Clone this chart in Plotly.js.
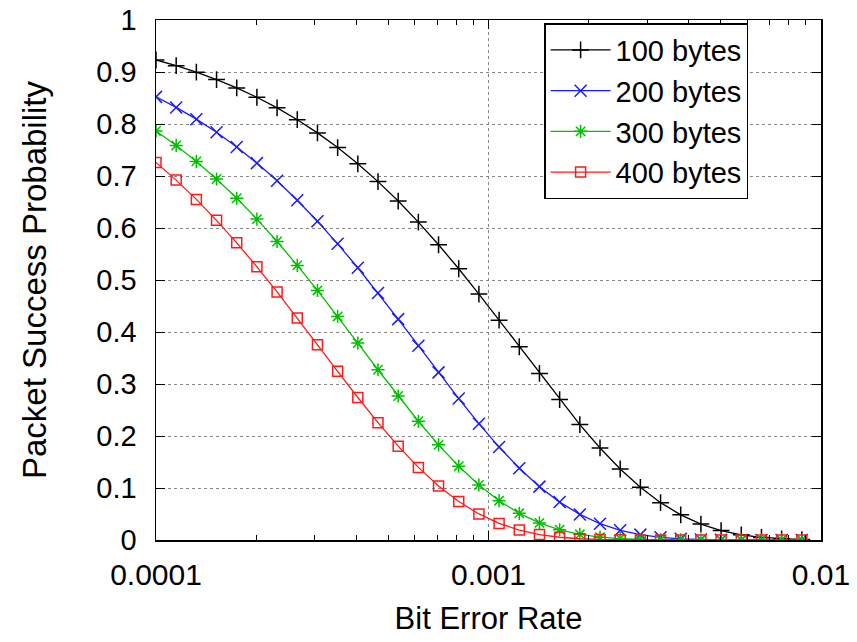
<!DOCTYPE html>
<html>
<head>
<meta charset="utf-8">
<script src="https://cdn.plot.ly/plotly-3.0.1.min.js"></script>
<style>html,body{margin:0;padding:0;background:#fff;}#chart{width:857px;height:642px;}</style>
</head>
<body>
<div id="chart"></div>
<script>
// Bit error rate samples (x)
const ber = [0.0001, 0.000115, 0.00013225, 0.00015209, 0.0001749, 0.00020114, 0.00023131, 0.000266, 0.0003059, 0.00035179,
  0.00040456, 0.00046524, 0.00053503, 0.00061528, 0.00070757, 0.00081371, 0.00093576, 0.0010761, 0.0012376, 0.0014232,
  0.0016367, 0.0018822, 0.0021645, 0.0024892, 0.0028625, 0.0032919, 0.0037857, 0.0043535, 0.0050066, 0.0057575,
  0.0066212, 0.0076144, 0.0087565];

const seriesNames = ['100 bytes', '200 bytes', '300 bytes', '400 bytes'];

const p100 = [0.9231, 0.9121, 0.8996, 0.8854, 0.8694, 0.8514, 0.8311, 0.8083, 0.7829, 0.7547,
  0.7235, 0.6892, 0.6518, 0.6113, 0.5678, 0.5216, 0.4730, 0.4228, 0.3716, 0.3203,
  0.2700, 0.2219, 0.1770, 0.1365, 0.1013, 0.0718, 0.0484, 0.0307, 0.0182, 0.0100,
  0.0050, 0.0023, 0.0009];
const p200 = [0.8522, 0.8319, 0.8093, 0.7840, 0.7559, 0.7248, 0.6907, 0.6534, 0.6130, 0.5696,
  0.5235, 0.4750, 0.4248, 0.3737, 0.3224, 0.2720, 0.2237, 0.1787, 0.1381, 0.1026,
  0.0729, 0.0492, 0.0313, 0.0186, 0.0103, 0.0052, 0.0023, 0.0009, 0.0003, 0.0001,
  0.0000, 0.0000, 0.0000];
const p300 = [0.7866, 0.7588, 0.7281, 0.6942, 0.6572, 0.6171, 0.5740, 0.5281, 0.4799, 0.4299,
  0.3787, 0.3274, 0.2769, 0.2284, 0.1830, 0.1419, 0.1058, 0.0756, 0.0513, 0.0329,
  0.0197, 0.0109, 0.0055, 0.0025, 0.0010, 0.0004, 0.0001, 0.0000, 0.0000, 0.0000,
  0.0000, 0.0000, 0.0000];
const p400 = [0.7262, 0.6921, 0.6550, 0.6147, 0.5714, 0.5254, 0.4770, 0.4269, 0.3757, 0.3244,
  0.2740, 0.2257, 0.1805, 0.1396, 0.1039, 0.0740, 0.0501, 0.0319, 0.0191, 0.0105,
  0.0053, 0.0024, 0.0010, 0.0003, 0.0001, 0.0000, 0.0000, 0.0000, 0.0000, 0.0000,
  0.0000, 0.0000, 0.0000];

const xTickVals = [0.0001, 0.001, 0.01];
const xTickText = ['0.0001', '0.001', '0.01'];

const colors = ['#000000', '#1a1aff', '#00c000', '#ff1a1a'];
const symbols = ['cross-thin', 'x-thin', 'asterisk-open', 'square-open'];
const sizes = [12, 12, 11, 10];
const ys = [p100, p200, p300, p400];

const FONT = 'Liberation Sans, Arial, sans-serif';

const traces = ys.map((y, i) => ({
  x: ber, y: y, name: seriesNames[i], type: 'scatter', mode: 'lines+markers',
  line: {color: colors[i], width: 1.3},
  marker: {symbol: symbols[i], size: sizes[i], color: colors[i], line: {color: colors[i], width: 1.5}}
}));

const layout = {
  width: 857, height: 642,
  margin: {l: 156, r: 36, t: 20, b: 102},
  paper_bgcolor: '#fff', plot_bgcolor: '#fff',
  font: {family: FONT, color: '#000', size: 29},
  showlegend: true,
  legend: {
    x: 0.737, y: 0.994, xanchor: 'center', yanchor: 'top',
    bordercolor: '#000', borderwidth: 1.5, bgcolor: '#fff',
    font: {family: FONT, size: 29, color: '#000'},
    itemwidth: 60, tracegroupgap: 0
  },
  xaxis: {
    type: 'log', range: [-4, -2],
    tickvals: xTickVals, ticktext: xTickText,
    ticks: 'inside', ticklen: 9, tickwidth: 1, tickcolor: '#000',
    showline: true, linecolor: '#000', linewidth: 1.5, mirror: 'allticks',
    showgrid: true, gridcolor: '#888', griddash: 'dot', gridwidth: 1,
    zeroline: false,
    tickfont: {family: FONT, size: 30, color: '#000'},
    ticklabelstandoff: 7,
    minor: {ticks: 'inside', ticklen: 5, tickcolor: '#000', tickwidth: 1, showgrid: false, dtick: 'D1'},
    title: {text: 'Bit Error Rate', font: {family: FONT, size: 31, color: '#000'}, standoff: 18},
    automargin: false
  },
  yaxis: {
    range: [0, 1], dtick: 0.1, tick0: 0,
    ticks: 'inside', ticklen: 9, tickwidth: 1, tickcolor: '#000',
    showline: true, linecolor: '#000', linewidth: 1.5, mirror: 'allticks',
    showgrid: true, gridcolor: '#888', griddash: 'dot', gridwidth: 1,
    zeroline: false,
    tickfont: {family: FONT, size: 29, color: '#000'},
    ticklabelstandoff: 12,
    title: {text: 'Packet Success Probability', font: {family: FONT, size: 33, color: '#000'}, standoff: 40},
    automargin: false
  }
};

Plotly.newPlot('chart', traces, layout, {displayModeBar: false, staticPlot: true});
</script>
</body>
</html>
